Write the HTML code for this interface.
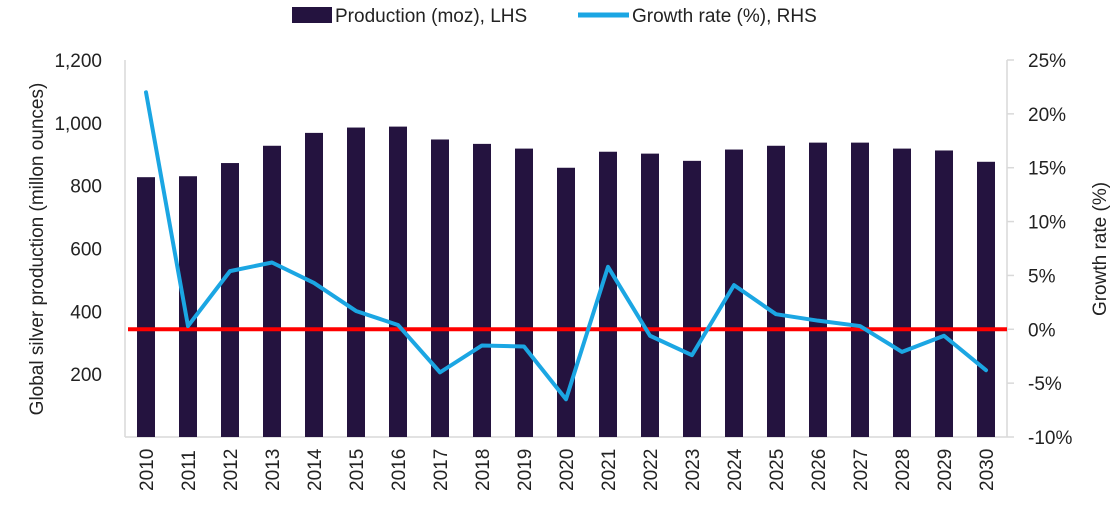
<!DOCTYPE html>
<html><head><meta charset="utf-8"><style>
body{margin:0;background:#fff;}
svg{display:block;font-family:"Liberation Sans",sans-serif;}
</style></head><body>
<svg id="c" width="1115" height="509">
<g>
<rect x="292" y="7" width="40" height="16" fill="#24133f"/>
<text x="335" y="22" font-size="19" fill="#222">Production (moz), LHS</text>
<line x1="578" y1="15" x2="629" y2="15" stroke="#1ba6e3" stroke-width="5"/>
<text x="632" y="22" font-size="19" fill="#222">Growth rate (%), RHS</text>
</g>
<text transform="translate(43,249) rotate(-90)" text-anchor="middle" font-size="19" fill="#222">Global silver production (millon ounces)</text>
<text transform="translate(1106,249) rotate(-90)" text-anchor="middle" font-size="19" fill="#222">Growth rate (%)</text>
<g id="plot"></g>
</svg>
<script>
const years=["2010","2011","2012","2013","2014","2015","2016","2017","2018","2019","2020","2021","2022","2023","2024","2025","2026","2027","2028","2029","2030"];
const production=[827,830,872,927,968,985,988,947,933,918,857,908,902,879,915,927,937,937,918,912,876];
const growth=[22,0.3,5.4,6.2,4.3,1.7,0.4,-4.0,-1.5,-1.6,-6.5,5.8,-0.6,-2.4,4.1,1.4,0.8,0.3,-2.1,-0.6,-3.8];
const leftTicks=[200,400,600,800,1000,1200];
const rightTicks=[-10,-5,0,5,10,15,20,25];
const NS="http://www.w3.org/2000/svg";
const g=document.getElementById('plot');
const X0=125,X1=1007,YT=60,YB=437;
const band=(X1-X0)/years.length;
const xc=i=>X0+band*(i+0.5);
const yL=v=>YB-(v/1200)*(YB-YT);
const yR=v=>YB-((v+10)/35)*(YB-YT);
function el(t,a){const e=document.createElementNS(NS,t);for(const k in a)e.setAttribute(k,a[k]);g.appendChild(e);return e;}
let e;
e=el('line',{x1:X0,y1:YT,x2:X0,y2:YB,stroke:'#d9d9d9','stroke-width':1.5});


e=el('line',{x1:X1,y1:YT,x2:X1,y2:YB,stroke:'#d9d9d9','stroke-width':1.5});


e=el('line',{x1:X0,y1:YB,x2:X1,y2:YB,stroke:'#d9d9d9','stroke-width':1.5});


leftTicks.forEach(v=>{
 const t=el('text',{x:102,y:yL(v)+7,'text-anchor':'end','font-size':19,fill:'#222'});
 t.textContent=v.toLocaleString('en-US');
 
 
});
rightTicks.forEach(v=>{
 const k=el('line',{x1:X1,y1:yR(v),x2:X1+7,y2:yR(v),stroke:'#d9d9d9','stroke-width':1.5});
 
 
 const t=el('text',{x:1028,y:yR(v)+7,'font-size':19,fill:'#222'});
 t.textContent=v+'%';
 
 
});
production.forEach((v,i)=>{
 const r=el('rect',{x:xc(i)-9,y:yL(v),width:18,height:YB-yL(v),fill:'#24133f'});
 
 
});
years.forEach((y,i)=>{
 const t=el('text',{transform:`translate(${xc(i)+7},491) rotate(-90)`,'font-size':19,fill:'#222'});
 t.textContent=y;
 
 
});
e=el('line',{x1:X0+3,y1:yR(0),x2:X1,y2:yR(0),stroke:'#ff0000','stroke-width':4});


e=el('polyline',{points:growth.map((v,i)=>xc(i)+','+yR(v)).join(' '),fill:'none',stroke:'#1ba6e3','stroke-width':4,'stroke-linejoin':'round','stroke-linecap':'round'});


</script>
</body></html>
